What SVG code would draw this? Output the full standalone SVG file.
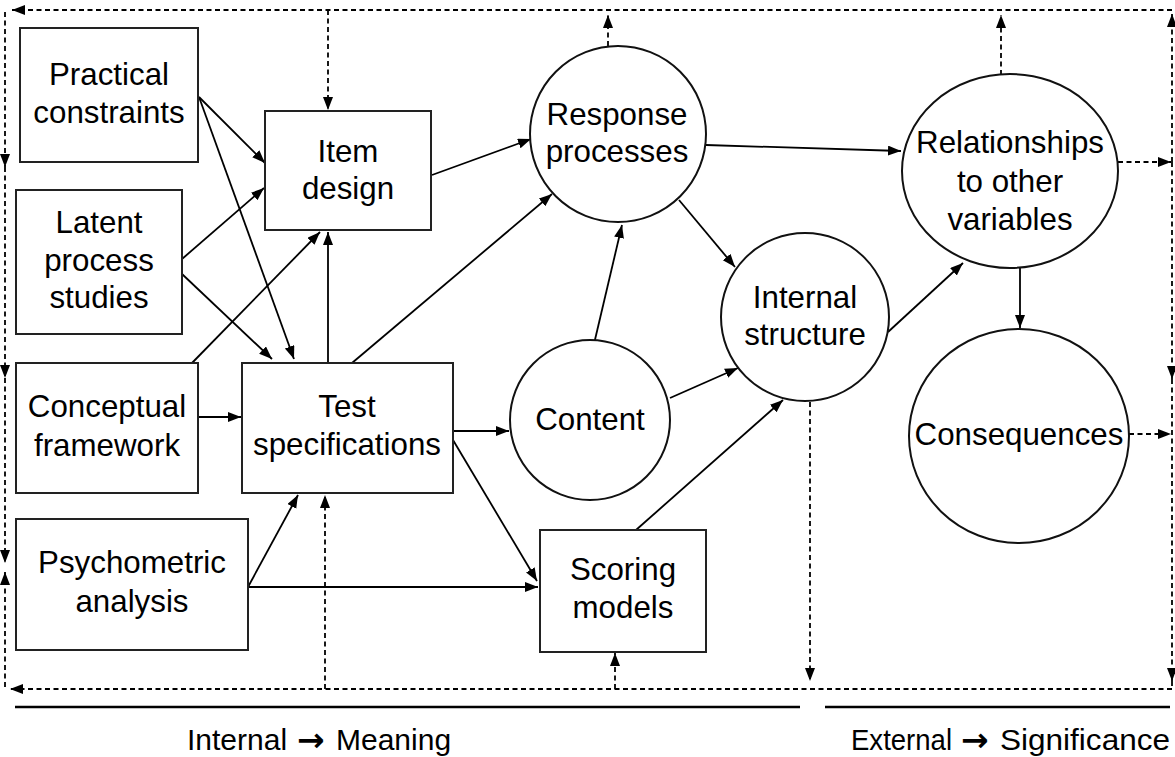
<svg xmlns="http://www.w3.org/2000/svg" width="1175" height="757" viewBox="0 0 1175 757">
<style>
.box{fill:#fff;stroke:#222;stroke-width:2}
.circ{fill:#fff;stroke:#111;stroke-width:2}
.t{font-family:"Liberation Sans",Arial,sans-serif;font-size:31.3px;fill:#000;text-anchor:middle}
.b{font-family:"Liberation Sans",Arial,sans-serif;font-size:30px;fill:#000}
.arr{font-family:"DejaVu Sans",sans-serif;font-weight:bold;font-size:33px}
.s{stroke:#000;stroke-width:1.8;fill:none;marker-end:url(#ah)}
.d{stroke:#000;stroke-width:1.8;fill:none;stroke-dasharray:5 3.5}
.da{marker-end:url(#ah)}
.rule{stroke:#000;stroke-width:2.5}
</style>
<defs>
<marker id="ah" markerUnits="userSpaceOnUse" markerWidth="14" markerHeight="12" refX="13" refY="5" orient="auto">
<path d="M0,0 L13,5 L0,10 z" fill="#000"/>
</marker>
</defs>
<rect width="1175" height="757" fill="#fff"/>

<g id="connectors">
<line class="d da" x1="1172" y1="10" x2="12" y2="10"/>
<line class="d da" x1="5" y1="12" x2="5" y2="167"/>
<line class="d da" x1="5" y1="167" x2="5" y2="378"/>
<line class="d da" x1="5" y1="378" x2="5" y2="563"/>
<line class="d da" x1="5" y1="687" x2="5" y2="572"/>
<line class="d da" x1="1172" y1="689" x2="10" y2="689"/>
<line class="d da" x1="1172" y1="162" x2="1172" y2="14"/>
<line class="d da" x1="1172" y1="162" x2="1172" y2="379"/>
<line class="d da" x1="1172" y1="379" x2="1172" y2="681"/>
<line class="d" x1="1172" y1="681" x2="1172" y2="689"/>
<line class="d da" x1="328" y1="10" x2="328" y2="110"/>
<line class="d da" x1="608" y1="46" x2="608" y2="15"/>
<line class="d da" x1="1001" y1="75" x2="1001" y2="15"/>
<line class="d da" x1="1118" y1="162" x2="1171" y2="162"/>
<line class="d da" x1="1129" y1="434" x2="1171" y2="434"/>
<line class="d da" x1="810" y1="402" x2="810" y2="681"/>
<line class="d da" x1="325" y1="689" x2="325" y2="495"/>
<line class="d da" x1="615" y1="689" x2="615" y2="653"/>
<line class="s" x1="199" y1="97" x2="265" y2="163"/>
<line class="s" x1="199" y1="97" x2="294" y2="359"/>
<line class="s" x1="182" y1="259" x2="264" y2="188"/>
<line class="s" x1="182" y1="274" x2="272" y2="359"/>
<line class="s" x1="192" y1="363" x2="320" y2="232"/>
<line class="s" x1="328" y1="363" x2="328" y2="232"/>
<line class="s" x1="352" y1="363" x2="552" y2="194"/>
<line class="s" x1="432" y1="175" x2="531" y2="139"/>
<line class="s" x1="199" y1="417" x2="241" y2="417"/>
<line class="s" x1="453" y1="431" x2="509" y2="431"/>
<line class="s" x1="453" y1="440" x2="537" y2="581"/>
<line class="s" x1="248" y1="587" x2="298" y2="495"/>
<line class="s" x1="248" y1="587" x2="538" y2="587"/>
<line class="s" x1="706" y1="145" x2="901" y2="151"/>
<line class="s" x1="679" y1="200" x2="735" y2="267"/>
<line class="s" x1="594" y1="344" x2="622" y2="225"/>
<line class="s" x1="670" y1="398" x2="738" y2="368"/>
<line class="s" x1="636" y1="530" x2="783" y2="400"/>
<line class="s" x1="888" y1="332" x2="963" y2="263"/>
<line class="s" x1="1020" y1="268" x2="1020" y2="328"/>
</g>

<g id="practical-constraints">
<rect class="box" x="20" y="28" width="178" height="134"/>
<text class="t" x="109" y="85">Practical</text>
<text class="t" x="109" y="123">constraints</text>
</g>
<g id="latent-process-studies">
<rect class="box" x="16" y="190" width="166" height="144"/>
<text class="t" x="99" y="233">Latent</text>
<text class="t" x="99" y="271">process</text>
<text class="t" x="99" y="308">studies</text>
</g>
<g id="conceptual-framework">
<rect class="box" x="16" y="363" width="182" height="130"/>
<text class="t" x="107" y="417">Conceptual</text>
<text class="t" x="107" y="456">framework</text>
</g>
<g id="psychometric-analysis">
<rect class="box" x="16" y="519" width="232" height="131"/>
<text class="t" x="132" y="573">Psychometric</text>
<text class="t" x="132" y="612">analysis</text>
</g>
<g id="item-design">
<rect class="box" x="265" y="111" width="166" height="119"/>
<text class="t" x="348" y="162">Item</text>
<text class="t" x="348" y="199">design</text>
</g>
<g id="test-specifications">
<rect class="box" x="242" y="363" width="211" height="130"/>
<text class="t" x="347" y="417">Test</text>
<text class="t" x="347" y="455">specifications</text>
</g>
<g id="scoring-models">
<rect class="box" x="540" y="530" width="166" height="122"/>
<text class="t" x="623" y="580">Scoring</text>
<text class="t" x="623" y="618">models</text>
</g>
<g id="response-processes">
<circle class="circ" cx="618" cy="134" r="88"/>
<text class="t" x="617" y="125">Response</text>
<text class="t" x="617" y="162">processes</text>
</g>
<g id="internal-structure">
<circle class="circ" cx="805" cy="317" r="84"/>
<text class="t" x="805" y="308">Internal</text>
<text class="t" x="805" y="345">structure</text>
</g>
<g id="content">
<circle class="circ" cx="590" cy="420" r="80"/>
<text class="t" x="590" y="430">Content</text>
</g>
<g id="relationships">
<ellipse class="circ" cx="1010" cy="171" rx="108" ry="97"/>
<text class="t" x="1010" y="153">Relationships</text>
<text class="t" x="1010" y="192">to other</text>
<text class="t" x="1010" y="230">variables</text>
</g>
<g id="consequences">
<ellipse class="circ" cx="1019" cy="436" rx="110" ry="107"/>
<text class="t" x="1019" y="445">Consequences</text>
</g>

<g id="axis">
<line class="rule" x1="15" y1="707" x2="800" y2="707"/>
<line class="rule" x1="825" y1="707" x2="1170" y2="707"/>
<text class="b" y="750"><tspan x="187">Internal</tspan><tspan class="arr" x="297" y="751">→</tspan><tspan x="336" y="750">Meaning</tspan></text>
<text class="b" y="750"><tspan x="851" textLength="101" lengthAdjust="spacingAndGlyphs">External</tspan><tspan class="arr" x="961" y="751">→</tspan><tspan x="1000" y="750" textLength="170" lengthAdjust="spacingAndGlyphs">Significance</tspan></text>
</g>
</svg>
